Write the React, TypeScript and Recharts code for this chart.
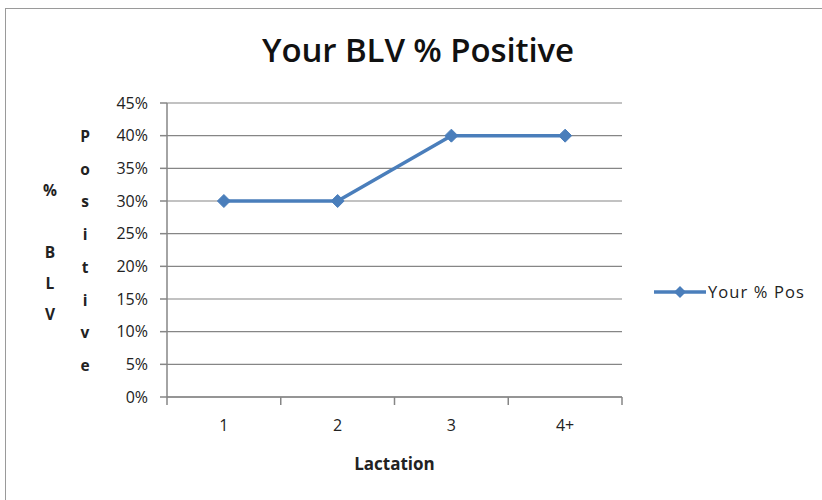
import { LineChart, Line, XAxis, YAxis, CartesianGrid, Legend } from 'recharts'

const categories = ['1', '2', '3', '4+']
const positiveRate = [0.3, 0.3, 0.4, 0.4]
const yTicks = [0, 0.05, 0.1, 0.15, 0.2, 0.25, 0.3, 0.35, 0.4, 0.45]

const data = categories.map((c, i) => ({ x: i + 1, name: c, pos: positiveRate[i] }))
// ticks between categories (marks) and at category centres (labels)
const xTicks = [0.5, 1, 1.5, 2, 2.5, 3, 3.5, 4, 4.5]

const FONT = '"Open Sans", "Noto Sans", sans-serif'
const LINE = '#4a7ebb'
const AXIS = '#868686'

/* eslint-disable @typescript-eslint/no-explicit-any */
function Diamond({ cx, cy }: any) {
  if (cx == null || cy == null) return null
  const r = 6.5
  return <polygon points={`${cx},${cy - r} ${cx + r},${cy} ${cx},${cy + r} ${cx - r},${cy}`} fill={LINE} stroke={LINE} />
}

function XTick({ x, y, payload }: any) {
  const v = payload.value
  if (v % 1 !== 0) {
    return <line x1={x} y1={y} x2={x} y2={y + 8} stroke={AXIS} strokeWidth={1.5} />
  }
  return (
    <text x={x} y={y + 34} textAnchor="middle" fontSize={16} fill="#222" fontFamily={FONT}>
      {categories[v - 1]}
    </text>
  )
}

function LegendBox() {
  return (
    <div style={{ display: 'flex', alignItems: 'center', fontFamily: FONT, fontSize: 16.5, color: '#222', letterSpacing: '1.1px' }}>
      <svg width={52} height={14}>
        <line x1={0} y1={7} x2={52} y2={7} stroke={LINE} strokeWidth={3.5} />
        <polygon points="26,1 32,7 26,13 20,7" fill={LINE} />
      </svg>
      <span style={{ marginLeft: 2 }}>Your % Pos</span>
    </div>
  )
}
/* eslint-enable @typescript-eslint/no-explicit-any */

function Stacked({ text, left, top, step }: { text: string; left: number; top: number; step: number }) {
  return (
    <>
      {text.split('').map((ch, i) => (
        <div key={i} style={{
          position: 'absolute', left, top: top + i * step, width: 20, textAlign: 'center',
          fontFamily: FONT, fontSize: 15.5, fontWeight: 700, color: '#222', lineHeight: '20px'
        }}>
          {ch}
        </div>
      ))}
    </>
  )
}

export default function App() {
  return (
    <div style={{ position: 'absolute', left: 0, top: 0, width: 822, height: 500, overflow: 'hidden', background: '#fff' }}>
      <div style={{ position: 'absolute', left: 5, top: 8, width: 840, height: 520, border: '1.5px solid #9a9a9a' }} />
      <div style={{
        position: 'absolute', left: 0, top: 27, width: 836, textAlign: 'center',
        fontFamily: FONT, fontSize: 33, fontWeight: 600, color: '#111', letterSpacing: '-0.1px'
      }}>
        Your BLV % Positive
      </div>
      <Stacked text="Positive" left={75} top={126} step={32.7} />
      <Stacked text="% BLV" left={40} top={180} step={31} />
      <div style={{ position: 'absolute', left: 0, top: 0 }}>
        <LineChart width={822} height={500} data={data} margin={{ top: 103, right: 200, bottom: 23, left: 97 }}>
          <CartesianGrid vertical={false} stroke={AXIS} strokeWidth={1.2} />
          <XAxis
            type="number" dataKey="x" domain={[0.5, 4.5]} ticks={xTicks} interval={0}
            tick={<XTick />} tickLine={false} tickSize={0} tickMargin={0}
            axisLine={{ stroke: AXIS, strokeWidth: 1.5 }} height={80}
            label={{ value: 'Lactation', position: 'insideBottom', offset: 7, fontSize: 17, fontWeight: 700, fill: '#222', fontFamily: FONT }}
          />
          <YAxis
            domain={[0, 0.45]} ticks={yTicks} interval={0} width={70}
            tickFormatter={(v: number) => `${Math.round(v * 100)}%`}
            tick={{ fontSize: 16, fill: '#222', fontFamily: FONT }}
            tickLine={{ stroke: AXIS, strokeWidth: 1.5 }} tickSize={7} tickMargin={12}
            axisLine={{ stroke: AXIS, strokeWidth: 1.5 }}
          />
          <Legend
            layout="vertical" align="center" verticalAlign="middle"
            wrapperStyle={{ left: 654, top: 280, width: 170 }}
            content={<LegendBox />}
          />
          <Line
            dataKey="pos" name="Your % Pos" stroke={LINE} strokeWidth={3.5}
            dot={<Diamond />} activeDot={false} isAnimationActive={false}
          />
        </LineChart>
      </div>
    </div>
  )
}
